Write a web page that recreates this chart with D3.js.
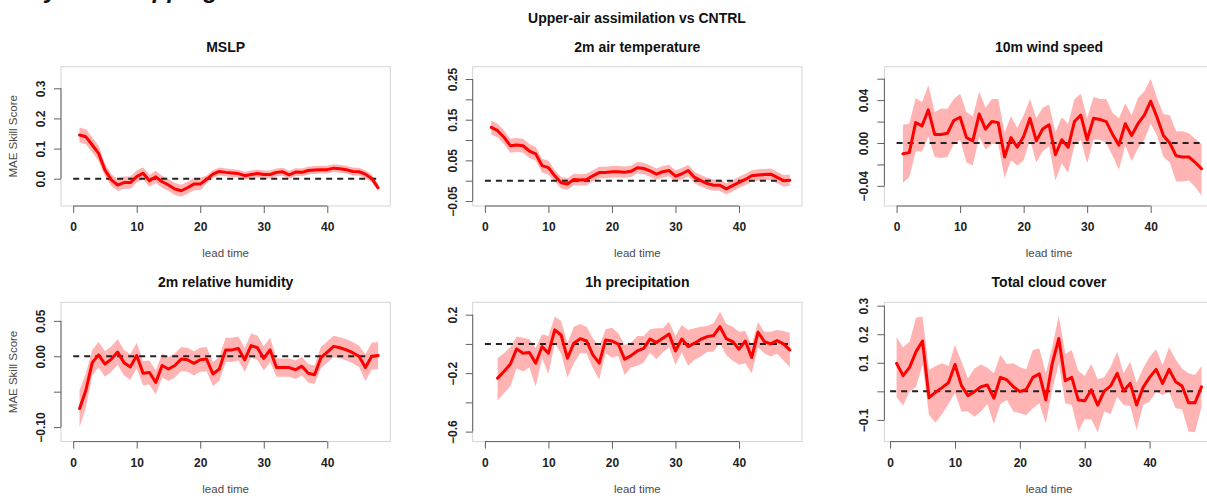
<!DOCTYPE html>
<html>
<head>
<meta charset="utf-8">
<script src="https://cdn.jsdelivr.net/npm/d3@7"></script>
<style>
  body { margin: 0; background: #fff; }
  svg { display: block; }
</style>
</head>
<body>
<script>
// lead times (hours)
const LEAD = [1,2,3,4,5,6,7,8,9,10,11,12,13,14,15,16,17,18,19,20,21,22,23,24,
  25,26,27,28,29,30,31,32,33,34,35,36,37,38,39,40,41,42,43,44,45,46,47,48];
const LEAD_PRECIP = [2,3,4,5,6,7,8,9,10,11,12,13,14,15,16,17,18,19,20,21,22,23,24,
  25,26,27,28,29,30,31,32,33,34,35,36,37,38,39,40,41,42,43,44,45,46,47,48];
const ZERO_SPAN = [0, 48];

const MSLP_MEAN = [0.145,0.139,0.112,0.084,0.029,-0.004,-0.021,-0.013,-0.013,0.007,0.018,-0.007,0.006,-0.010,-0.021,-0.034,-0.040,-0.030,-0.018,-0.018,-0.002,0.015,0.024,0.021,0.019,0.017,0.010,0.014,0.017,0.014,0.014,0.021,0.023,0.013,0.022,0.021,0.027,0.029,0.030,0.030,0.035,0.033,0.030,0.024,0.023,0.015,0.001,-0.030];
const MSLP_HI = [0.170,0.164,0.137,0.109,0.049,0.016,-0.001,0.007,0.007,0.027,0.038,0.013,0.026,0.010,-0.001,-0.014,-0.020,-0.010,0.002,0.002,0.011,0.028,0.037,0.034,0.032,0.030,0.023,0.027,0.030,0.027,0.027,0.034,0.036,0.026,0.035,0.034,0.040,0.042,0.043,0.043,0.048,0.046,0.043,0.037,0.036,0.028,0.014,-0.018];
const MSLP_LO = [0.120,0.114,0.087,0.059,0.009,-0.024,-0.041,-0.033,-0.033,-0.013,-0.002,-0.027,-0.014,-0.030,-0.041,-0.054,-0.060,-0.050,-0.038,-0.038,-0.015,0.002,0.011,0.008,0.006,0.004,-0.003,0.001,0.004,0.001,0.001,0.008,0.010,0.000,0.009,0.008,0.014,0.016,0.017,0.017,0.022,0.020,0.017,0.011,0.010,0.002,-0.012,-0.042];

const T2M_MEAN = [0.131,0.123,0.107,0.086,0.088,0.086,0.073,0.066,0.037,0.032,0.012,-0.005,-0.008,0.003,0.002,0.003,0.012,0.020,0.020,0.022,0.022,0.021,0.023,0.032,0.030,0.024,0.016,0.022,0.025,0.011,0.017,0.025,0.008,0.000,-0.007,-0.011,-0.011,-0.020,-0.012,-0.004,0.003,0.012,0.014,0.015,0.016,0.008,0.000,0.001];
const T2M_HI = [0.148,0.140,0.124,0.103,0.105,0.103,0.090,0.083,0.054,0.049,0.026,0.009,0.006,0.017,0.016,0.017,0.026,0.034,0.034,0.036,0.036,0.035,0.037,0.046,0.044,0.038,0.030,0.036,0.039,0.025,0.031,0.039,0.022,0.014,0.007,0.003,0.003,-0.006,0.002,0.010,0.017,0.026,0.028,0.029,0.030,0.022,0.014,0.015];
const T2M_LO = [0.114,0.106,0.090,0.069,0.071,0.069,0.056,0.049,0.020,0.015,-0.002,-0.019,-0.022,-0.011,-0.012,-0.011,-0.002,0.006,0.006,0.008,0.008,0.007,0.009,0.018,0.016,0.010,0.002,0.008,0.011,-0.003,0.003,0.011,-0.006,-0.014,-0.021,-0.025,-0.025,-0.034,-0.026,-0.018,-0.011,-0.002,0.000,0.001,0.002,-0.006,-0.014,-0.013];

const WIND_MEAN = [-0.010,-0.009,0.019,0.016,0.031,0.008,0.008,0.009,0.021,0.024,0.005,0.002,0.027,0.013,0.020,0.019,-0.013,0.005,-0.004,0.006,0.023,0.002,0.013,0.017,-0.011,0.003,-0.004,0.020,0.026,0.003,0.023,0.022,0.020,0.008,-0.002,0.018,0.007,0.018,0.026,0.039,0.024,0.007,0.000,-0.012,-0.013,-0.013,-0.018,-0.024];
const WIND_HI = [0.017,0.018,0.042,0.038,0.054,0.029,0.032,0.032,0.041,0.046,0.029,0.025,0.048,0.033,0.041,0.041,0.010,0.025,0.014,0.026,0.041,0.023,0.033,0.036,0.010,0.024,0.018,0.041,0.046,0.023,0.043,0.041,0.041,0.028,0.023,0.037,0.026,0.042,0.048,0.060,0.042,0.027,0.026,0.011,0.011,0.009,0.004,-0.001];
const WIND_LO = [-0.037,-0.032,-0.008,-0.008,0.006,-0.013,-0.014,-0.013,-0.001,0.003,-0.018,-0.021,0.006,-0.006,-0.001,-0.001,-0.033,-0.016,-0.021,-0.016,0.003,-0.018,-0.008,-0.003,-0.035,-0.019,-0.028,-0.002,0.003,-0.019,0.003,0.003,0.000,-0.012,-0.025,-0.002,-0.017,-0.005,0.003,0.018,0.007,-0.013,-0.018,-0.036,-0.036,-0.035,-0.041,-0.049];

const RH_MEAN = [-0.074,-0.048,-0.009,0.002,-0.011,-0.004,0.006,-0.009,-0.015,0.001,-0.024,-0.023,-0.037,-0.013,-0.018,-0.013,-0.004,-0.005,-0.010,-0.005,-0.004,-0.025,-0.018,0.009,0.009,0.011,-0.005,0.015,0.012,-0.003,0.009,-0.016,-0.016,-0.016,-0.019,-0.014,-0.024,-0.026,-0.002,0.006,0.014,0.012,0.009,0.005,0.000,-0.016,0.000,0.001];
const RH_HI = [-0.048,-0.024,0.009,0.020,0.007,0.014,0.024,0.009,0.003,0.019,-0.007,-0.006,-0.020,0.004,-0.001,0.004,0.013,0.012,0.007,0.012,0.013,-0.008,-0.001,0.026,0.026,0.028,0.012,0.032,0.029,0.014,0.026,-0.003,-0.003,-0.003,-0.006,-0.001,-0.011,-0.013,0.013,0.021,0.029,0.027,0.024,0.020,0.015,0.003,0.019,0.020];
const RH_LO = [-0.100,-0.072,-0.027,-0.016,-0.029,-0.022,-0.012,-0.027,-0.033,-0.017,-0.041,-0.040,-0.054,-0.030,-0.035,-0.030,-0.021,-0.022,-0.027,-0.022,-0.021,-0.042,-0.035,-0.008,-0.008,-0.006,-0.022,-0.002,-0.005,-0.020,-0.008,-0.029,-0.029,-0.029,-0.032,-0.027,-0.037,-0.039,-0.017,-0.009,-0.001,-0.003,-0.006,-0.010,-0.015,-0.035,-0.019,-0.018];

const PRECIP_MEAN = [-0.234,-0.189,-0.139,-0.034,-0.064,-0.059,-0.132,-0.018,-0.064,0.096,0.061,-0.098,0.005,0.036,0.020,-0.075,-0.132,0.027,0.020,-0.002,-0.105,-0.080,-0.048,-0.030,0.034,0.009,0.039,0.068,-0.048,0.034,-0.018,0.005,0.032,0.050,0.057,0.118,0.036,0.016,-0.036,0.020,-0.093,0.080,0.016,0.000,0.023,0.000,-0.041];
const PRECIP_HI = [-0.098,-0.064,-0.023,0.050,0.043,0.032,-0.030,0.066,0.055,0.187,0.157,0.005,0.118,0.137,0.118,0.039,-0.018,0.100,0.111,0.073,-0.007,0.009,0.055,0.055,0.100,0.107,0.107,0.152,0.055,0.130,0.096,0.107,0.118,0.123,0.141,0.221,0.137,0.118,0.084,0.089,-0.007,0.148,0.084,0.084,0.096,0.089,0.077];
const PRECIP_LO = [-0.387,-0.337,-0.291,-0.166,-0.189,-0.162,-0.291,-0.098,-0.205,0.005,-0.068,-0.230,-0.132,-0.064,-0.064,-0.166,-0.246,-0.064,-0.093,-0.082,-0.212,-0.162,-0.150,-0.127,-0.059,-0.105,-0.059,-0.023,-0.143,-0.059,-0.150,-0.109,-0.086,-0.055,-0.052,0.005,-0.075,-0.116,-0.143,-0.132,-0.200,-0.023,-0.064,-0.086,-0.068,-0.114,-0.159];

const CLOUD_MEAN = [0.098,0.055,0.084,0.139,0.176,-0.022,-0.003,0.013,0.030,0.094,0.020,-0.015,-0.001,0.016,0.022,-0.024,0.049,0.040,0.016,-0.001,0.007,0.049,0.061,-0.030,0.098,0.185,0.037,0.049,-0.030,-0.033,0.005,-0.048,0.001,0.019,0.063,0.001,0.028,-0.048,0.014,0.049,0.077,0.028,0.077,0.034,0.019,-0.040,-0.040,0.016];
const CLOUD_HI = [0.189,0.154,0.174,0.259,0.261,0.075,0.089,0.098,0.089,0.162,0.104,0.045,0.080,0.094,0.083,0.063,0.127,0.096,0.098,0.084,0.077,0.145,0.150,0.063,0.156,0.265,0.131,0.145,0.072,0.054,0.096,0.042,0.049,0.086,0.139,0.063,0.104,0.030,0.080,0.121,0.147,0.092,0.154,0.112,0.080,0.063,0.057,0.089];
const CLOUD_LO = [-0.021,-0.050,-0.001,0.016,0.094,-0.083,-0.110,-0.079,-0.044,-0.005,-0.071,-0.071,-0.089,-0.071,-0.044,-0.114,-0.044,-0.030,-0.071,-0.077,-0.083,-0.059,-0.042,-0.112,0.005,0.098,-0.042,-0.048,-0.141,-0.098,-0.098,-0.143,-0.071,-0.079,-0.019,-0.048,-0.051,-0.135,-0.048,-0.036,-0.001,-0.013,-0.001,-0.059,-0.063,-0.141,-0.143,-0.054];

// axis ticks and labels ('' = tick without label, as R dropped them)
const X_TICKS = [0, 10, 20, 30, 40];
const X_LABELS = ['0', '10', '20', '30', '40'];
const MSLP_TICKS = [0, 0.1, 0.2, 0.3];
const MSLP_LABELS = ['0.0', '0.1', '0.2', '0.3'];
const T2M_TICKS = [-0.05, 0, 0.05, 0.10, 0.15, 0.20, 0.25];
const T2M_LABELS = ['\u22120.05', '', '0.05', '', '0.15', '', '0.25'];
const WIND_TICKS = [-0.04, -0.02, 0, 0.02, 0.04, 0.06];
const WIND_LABELS = ['\u22120.04', '', '0.00', '', '0.04', ''];
const RH_TICKS = [-0.10, -0.05, 0, 0.05];
const RH_LABELS = ['\u22120.10', '', '0.00', '0.05'];
const PRECIP_TICKS = [-0.6, -0.4, -0.2, 0, 0.2];
const PRECIP_LABELS = ['\u22120.6', '', '\u22120.2', '', '0.2'];
const CLOUD_TICKS = [-0.1, 0, 0.1, 0.2, 0.3];
const CLOUD_LABELS = ['\u22120.1', '', '0.1', '0.2', '0.3'];

const MAIN_TITLE = 'Upper-air assimilation vs CNTRL';
const X_TITLE = 'lead time';
const Y_TITLE = 'MAE Skill Score';

const panels = [
  { title: 'MSLP', lead: LEAD, mean: MSLP_MEAN, hi: MSLP_HI, lo: MSLP_LO, ticks: MSLP_TICKS, labels: MSLP_LABELS, xDom: [-1.92, 49.92], yDom: [-0.0906, 0.3717], col: 0, row: 0 },
  { title: '2m air temperature', lead: LEAD, mean: T2M_MEAN, hi: T2M_HI, lo: T2M_LO, ticks: T2M_TICKS, labels: T2M_LABELS, xDom: [-1.92, 49.92], yDom: [-0.0622, 0.2803], col: 1, row: 0 },
  { title: '10m wind speed', lead: LEAD, mean: WIND_MEAN, hi: WIND_HI, lo: WIND_LO, ticks: WIND_TICKS, labels: WIND_LABELS, xDom: [-1.92, 49.92], yDom: [-0.0588, 0.0712], col: 2, row: 0 },
  { title: '2m relative humidity', lead: LEAD, mean: RH_MEAN, hi: RH_HI, lo: RH_LO, ticks: RH_TICKS, labels: RH_LABELS, xDom: [-1.92, 49.92], yDom: [-0.1205, 0.0762], col: 0, row: 1 },
  { title: '1h precipitation', lead: LEAD_PRECIP, mean: PRECIP_MEAN, hi: PRECIP_HI, lo: PRECIP_LO, ticks: PRECIP_TICKS, labels: PRECIP_LABELS, xDom: [-1.92, 49.92], yDom: [-0.6684, 0.2848], col: 1, row: 1 },
  { title: 'Total cloud cover', lead: LEAD, mean: CLOUD_MEAN, hi: CLOUD_HI, lo: CLOUD_LO, ticks: CLOUD_TICKS, labels: CLOUD_LABELS, xDom: [-0.88, 49.88], yDom: [-0.1760, 0.3118], col: 2, row: 1 }
];

const W = 1207, H = 498;
const FONT = '"Liberation Sans", Arial, Helvetica, sans-serif';
const PANEL_W = 411.7, ROW_H = 235.6;
const BOX = { left: 61, top: 66.7, width: 329.3, height: 139.3 };
const AXIS_COL = '#606060';

const svg = d3.select('body').append('svg')
  .attr('width', W)
  .attr('height', H)
  .attr('font-family', FONT);

svg.append('rect').attr('width', W).attr('height', H).attr('fill', '#fff');

// heading of the page above, cut off by the crop (only descenders visible)
svg.append('text')
  .attr('x', 14)
  .attr('y', -2.5)
  .style('font-size', '24px')
  .style('font-weight', 'bold')
  .style('font-style', 'italic')
  .attr('fill', '#111')
  .text('Key skill mapping');

svg.append('text')
  .attr('x', 637)
  .attr('y', 22.5)
  .attr('text-anchor', 'middle')
  .style('font-size', '14px')
  .style('font-weight', 'bold')
  .attr('fill', '#111')
  .text(MAIN_TITLE);

panels.forEach(p => {
  const g = svg.append('g')
    .attr('transform', `translate(${BOX.left + p.col * PANEL_W},${BOX.top + p.row * ROW_H})`);

  const x = d3.scaleLinear().domain(p.xDom).range([0, BOX.width]);
  const y = d3.scaleLinear().domain(p.yDom).range([BOX.height, 0]);
  const rows = p.lead.map((t, i) => ({ t, m: p.mean[i], hi: p.hi[i], lo: p.lo[i] }));

  // plot frame
  g.append('rect')
    .attr('width', BOX.width)
    .attr('height', BOX.height)
    .attr('fill', 'none')
    .attr('stroke', '#d4d4d4')
    .attr('stroke-width', 1);

  // uncertainty band
  g.append('path')
    .datum(rows)
    .attr('fill', '#ffb3b3')
    .attr('d', d3.area().x(d => x(d.t)).y0(d => y(d.lo)).y1(d => y(d.hi)));

  // zero reference
  g.append('path')
    .datum(ZERO_SPAN)
    .attr('fill', 'none')
    .attr('stroke', '#222')
    .attr('stroke-width', 2)
    .attr('stroke-dasharray', '6,5')
    .attr('d', d3.line().x(d => x(d)).y(() => y(0)));

  // skill score line
  g.append('path')
    .datum(rows)
    .attr('fill', 'none')
    .attr('stroke', '#ff0000')
    .attr('stroke-width', 3)
    .attr('stroke-linejoin', 'round')
    .attr('stroke-linecap', 'round')
    .attr('d', d3.line().x(d => x(d.t)).y(d => y(d.m)));

  // x axis
  const xa = g.append('g')
    .attr('transform', `translate(0,${BOX.height})`)
    .call(d3.axisBottom(x).tickValues(X_TICKS).tickSize(7).tickSizeOuter(0)
      .tickFormat((d, i) => X_LABELS[i]));
  xa.attr('font-family', FONT).attr('font-size', 12);
  xa.select('.domain').remove();
  xa.append('line')
    .attr('x1', x(X_TICKS[0])).attr('x2', x(X_TICKS[X_TICKS.length - 1]))
    .attr('stroke', AXIS_COL);
  xa.selectAll('.tick line').attr('stroke', AXIS_COL);
  xa.selectAll('.tick text')
    .attr('y', 25).attr('dy', 0)
    .attr('fill', '#222')
    .style('font-weight', 'bold');

  // y axis
  const ya = g.append('g')
    .call(d3.axisLeft(y).tickValues(p.ticks).tickSize(7).tickSizeOuter(0)
      .tickFormat((d, i) => p.labels[i]));
  ya.attr('font-family', FONT).attr('font-size', 12);
  ya.select('.domain').remove();
  ya.append('line')
    .attr('y1', y(p.ticks[0])).attr('y2', y(p.ticks[p.ticks.length - 1]))
    .attr('stroke', AXIS_COL);
  ya.selectAll('.tick line').attr('stroke', AXIS_COL);
  ya.selectAll('.tick text')
    .attr('transform', 'rotate(-90)')
    .attr('x', 0).attr('y', -16).attr('dy', 0)
    .attr('text-anchor', 'middle')
    .attr('fill', '#222')
    .style('font-weight', 'bold');

  // titles
  g.append('text')
    .attr('x', BOX.width / 2)
    .attr('y', -15)
    .attr('text-anchor', 'middle')
    .style('font-size', '14px')
    .style('font-weight', 'bold')
    .attr('fill', '#111')
    .text(p.title);

  g.append('text')
    .attr('x', BOX.width / 2)
    .attr('y', BOX.height + 51.5)
    .attr('text-anchor', 'middle')
    .style('font-size', '11.5px')
    .attr('fill', '#4a4a4a')
    .text(X_TITLE);

  if (p.col === 0) {
    g.append('text')
      .attr('transform', `translate(-44.3,${BOX.height / 2}) rotate(-90)`)
      .attr('text-anchor', 'middle')
      .style('font-size', '11.5px')
      .attr('fill', '#4a4a4a')
      .text(Y_TITLE);
  }
});
</script>
</body>
</html>
